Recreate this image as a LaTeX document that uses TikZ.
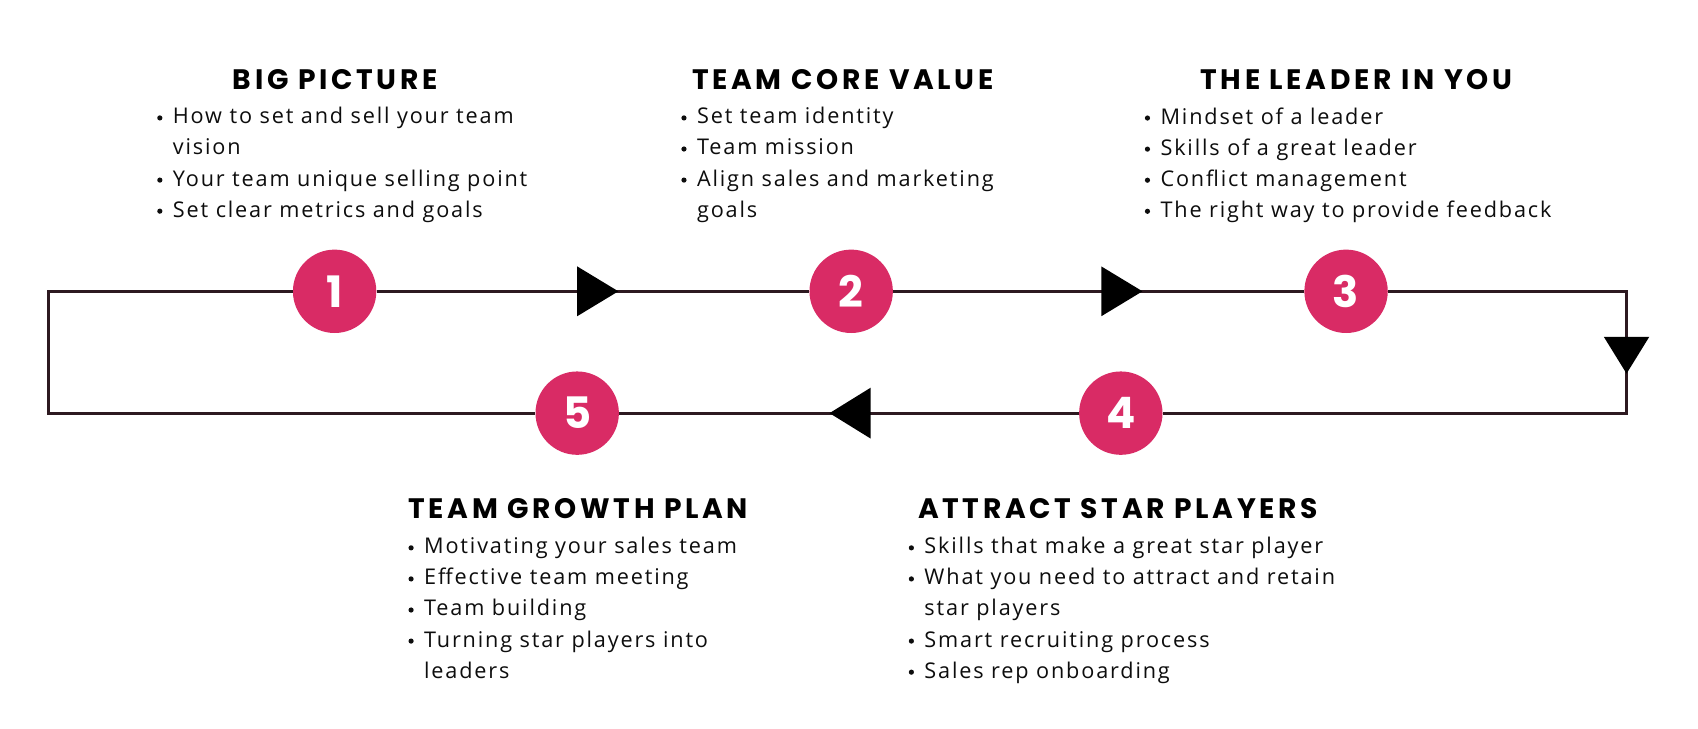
\documentclass[tikz,border=0pt]{standalone}
\usepackage{fontspec}
\setmainfont{Open Sans}[LetterSpace=8.5]
\newfontfamily\headfont{Poppins}[LetterSpace=13]
\newfontfamily\numfont{Poppins}
\definecolor{pink}{RGB}{217,43,101}
\definecolor{linec}{RGB}{45,25,32}
\begin{document}
\begin{tikzpicture}[x=1pt,y=-1pt,
  num/.style={circle,fill=pink,minimum size=77pt,inner sep=0pt,text=white,font=\fontsize{40}{40}\selectfont\numfont\bfseries},
  head/.style={font=\fontsize{26}{26}\selectfont\headfont\bfseries,anchor=base,inner sep=0pt},
  body/.style={font=\fontsize{20}{28.7}\selectfont,anchor=north west,inner sep=0pt,align=left,text=black!95},
  conn/.style={draw=linec,line width=2.6pt},
  tri/.style={fill=black}]
\useasboundingbox (0,0) rectangle (1568,673);
\fill[white] (0,0) rectangle (1568,673);
% corners
\coordinate (tl) at (45,269);
\coordinate (tr) at (1502,269);
\coordinate (br) at (1502,381.5);
\coordinate (bl) at (45,381.5);
% circles
\node[num] (n1) at (309,269) {1};
\node[num] (n2) at (786,269) {2};
\node[num] (n3) at (1243,269) {3};
\node[num] (n4) at (1035,381.5) {4};
\node[num] (n5) at (533,381.5) {5};
% connectors
\draw[conn] (n1) -- (n2);
\draw[conn] (n2) -- (n3);
\draw[conn] (n3) -- (tr) -- (br) -- (n4);
\draw[conn] (n4) -- (n5);
\draw[conn] (n5) -- (bl) -- (tl) -- (n1);
% arrowheads
\fill[tri] (533,246) -- (571,269) -- (533,292) -- cycle;
\fill[tri] (1017,246) -- (1055,269) -- (1017,292) -- cycle;
\fill[tri] (1481,311) -- (1523,311) -- (1502,345) -- cycle;
\fill[tri] (804,358) -- (766,381.5) -- (804,405) -- cycle;
% headings
\node[head] (h1) at (309.5,83) {BIG PICTURE};
\node[head] (h2) at (778.5,83) {TEAM CORE VALUE};
\node[head] (h3) at (1252.5,83) {THE LEADER IN YOU};
\node[head] (h5) at (534,479) {TEAM GROWTH PLAN};
\node[head] (h4) at (1032.5,479) {ATTRACT STAR PLAYERS};
% bullet lists
\newcommand\itm[1]{\makebox[14.5pt][l]{\tikz[baseline=-5.5pt]\fill (0,0) circle (2.4pt);}#1}
\newcommand\cnt[1]{\hspace*{14.5pt}#1}
\node[body] (b1) at (145,99) {\itm{How to set and sell your team}\\ \cnt{vision}\\ \itm{Your team unique selling point}\\ \itm{Set clear metrics and goals}};
\node[body] (b2) at (629,99) {\itm{Set team identity}\\ \itm{Team mission}\\ \itm{Align sales and marketing}\\ \cnt{goals}};
\node[body] (b3) at (1057,99) {\itm{Mindset of a leader}\\ \itm{Skills of a great leader}\\ \itm{Conflict management}\\ \itm{The right way to provide feedback}};
\node[body] (b5) at (377,496) {\itm{Motivating your sales team}\\ \itm{Effective team meeting}\\ \itm{Team building}\\ \itm{Turning star players into}\\ \cnt{leaders}};
\node[body] (b4) at (839,496) {\itm{Skills that make a great star player}\\ \itm{What you need to attract and retain}\\ \cnt{star players}\\ \itm{Smart recruiting process}\\ \itm{Sales rep onboarding}};
\end{tikzpicture}
\end{document}
